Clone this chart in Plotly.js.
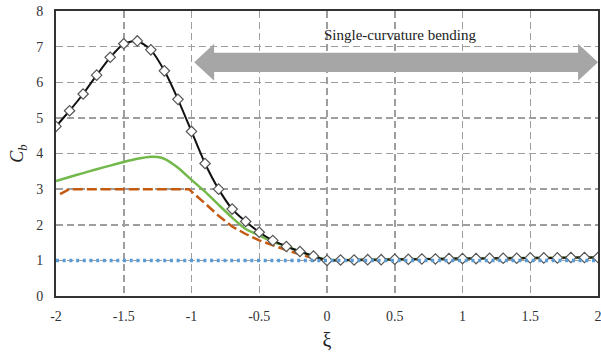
<!DOCTYPE html>
<html>
<head>
<meta charset="utf-8">
<script src="https://cdn.plot.ly/plotly-3.0.1.min.js"></script>
<style>html,body{margin:0;padding:0;background:#fff;}#chart{width:601px;height:364px;}</style>
</head>
<body>
<div id="chart"></div>
<script>
// Black curve with open markers
const xBlack = [-2,-1.9,-1.8,-1.7,-1.6,-1.5,-1.4,-1.3,-1.2,-1.1,-1.0,-0.9,-0.8,-0.7,-0.6,-0.5,-0.4,-0.3,-0.2,-0.1,0,
                0.1,0.2,0.3,0.4,0.5,0.6,0.7,0.8,0.9,1.0,1.1,1.2,1.3,1.4,1.5,1.6,1.7,1.8,1.9,2.0];
const yBlack = [4.76,5.2,5.67,6.2,6.7,7.08,7.16,6.91,6.32,5.52,4.62,3.72,3.0,2.44,2.09,1.79,1.56,1.39,1.25,1.12,1.0,
                1.01,1.01,1.02,1.02,1.03,1.03,1.04,1.04,1.05,1.05,1.05,1.06,1.06,1.06,1.07,1.07,1.07,1.08,1.08,1.08];
// Green solid curve
const xGreen = [-2,-1.9,-1.8,-1.7,-1.6,-1.5,-1.4,-1.3,-1.25,-1.2,-1.1,-1.0,-0.9,-0.8,-0.7,-0.6,-0.5,-0.4,-0.3,-0.2,-0.1,0,0.5,1.0,1.5,2.0];
const yGreen = [3.23,3.34,3.45,3.56,3.66,3.76,3.85,3.91,3.9,3.85,3.6,3.26,2.93,2.56,2.2,1.88,1.7,1.52,1.4,1.25,1.12,1.02,1.03,1.05,1.07,1.08];
// Brown dashed curve
const xBrown = [-1.97,-1.9,-1.5,-1.02,-0.9,-0.8,-0.7,-0.6,-0.5,-0.4,-0.3,-0.2,-0.1,0,0.5,1.0,1.5,2.0];
const yBrown = [2.86,3.0,3.0,3.0,2.6,2.25,1.95,1.74,1.56,1.42,1.29,1.17,1.06,1.0,1.02,1.04,1.06,1.08];
// Blue dotted line
const xBlue = [-2,2];
const yBlue = [1,1];
// Axis ticks
const xTicks = [-2,-1.5,-1,-0.5,0,0.5,1,1.5,2];
const xTickText = ['-2','-1.5','-1','-0.5','0','0.5','1','1.5','2'];
const yTicks = [0,1,2,3,4,5,6,7,8];
// Annotation arrow extent
const arrowX = [-0.98, 2.0];
const arrowY = 6.56;
const arrowLabel = 'Single-curvature bending';

const serif = '"Liberation Serif", "DejaVu Serif", serif';

function arrowPath(x0, x1, yc) {
  const h = 0.147, b = 0.27, H = 0.52;
  return 'M' + x0 + ',' + yc +
    ' L' + (x0+h) + ',' + (yc+H) + ' L' + (x0+h) + ',' + (yc+b) +
    ' L' + (x1-h) + ',' + (yc+b) + ' L' + (x1-h) + ',' + (yc+H) +
    ' L' + x1 + ',' + yc +
    ' L' + (x1-h) + ',' + (yc-H) + ' L' + (x1-h) + ',' + (yc-b) +
    ' L' + (x0+h) + ',' + (yc-b) + ' L' + (x0+h) + ',' + (yc-H) + ' Z';
}

const traces = [
  {x: xBrown, y: yBrown, mode: 'lines', line: {color: '#c55a11', width: 2.5, dash: '10px,4px'}, hoverinfo: 'skip'},
  {x: xGreen, y: yGreen, mode: 'lines', line: {color: '#72b84a', width: 2.5, shape: 'spline', smoothing: 0.6}, hoverinfo: 'skip'},
  {x: xBlack, y: yBlack, mode: 'lines+markers', line: {color: '#111', width: 2, shape: 'spline', smoothing: 0.6},
   marker: {symbol: 'diamond', size: 8, color: '#fff', line: {color: '#555', width: 1.2}}, hoverinfo: 'skip'},
  {x: xBlue, y: yBlue, mode: 'lines', line: {color: '#5b9bd5', width: 3.5, dash: '3px,3.7px'}, hoverinfo: 'skip'}
];

const layout = {
  width: 601, height: 364,
  margin: {l: 56, r: 3, t: 11, b: 68},
  paper_bgcolor: '#fff', plot_bgcolor: '#fff',
  showlegend: false,
  font: {family: serif, size: 14, color: '#333'},
  xaxis: {
    range: [-2, 2], tickvals: xTicks, ticktext: xTickText,
    showgrid: true, gridcolor: '#9e9e9e', gridwidth: 1.5, griddash: '7px,4px',
    zeroline: false, showline: true, mirror: true, linecolor: '#333', linewidth: 2,
    ticks: '', ticklabelstandoff: 6, ticklabeloverflow: 'allow',
    tickfont: {family: serif, size: 14, color: '#333'},
    title: {text: 'ξ', font: {family: serif, size: 20, color: '#222'}, standoff: 10}
  },
  yaxis: {
    range: [0, 8], tickvals: yTicks,
    showgrid: true, gridcolor: '#9e9e9e', gridwidth: 1.5, griddash: '7px,4px',
    zeroline: false, showline: true, mirror: true, linecolor: '#333', linewidth: 2,
    ticks: '', ticklabelstandoff: 8,
    tickfont: {family: serif, size: 14, color: '#333'},
    title: {text: '<i>C</i><sub><i>b</i></sub>', font: {family: serif, size: 18, color: '#222'}, standoff: 8}
  },
  shapes: [
    {type: 'path', xref: 'x', yref: 'y', path: arrowPath(arrowX[0], arrowX[1], arrowY),
     fillcolor: '#a6a6a6', line: {width: 0}, layer: 'above'}
  ],
  annotations: [
    {x: 0.544, y: 7.33, xref: 'x', yref: 'y', text: arrowLabel, showarrow: false,
     font: {family: serif, size: 15, color: '#222'}}
  ]
};

Plotly.newPlot('chart', traces, layout, {staticPlot: true, displayModeBar: false});
</script>
</body>
</html>
